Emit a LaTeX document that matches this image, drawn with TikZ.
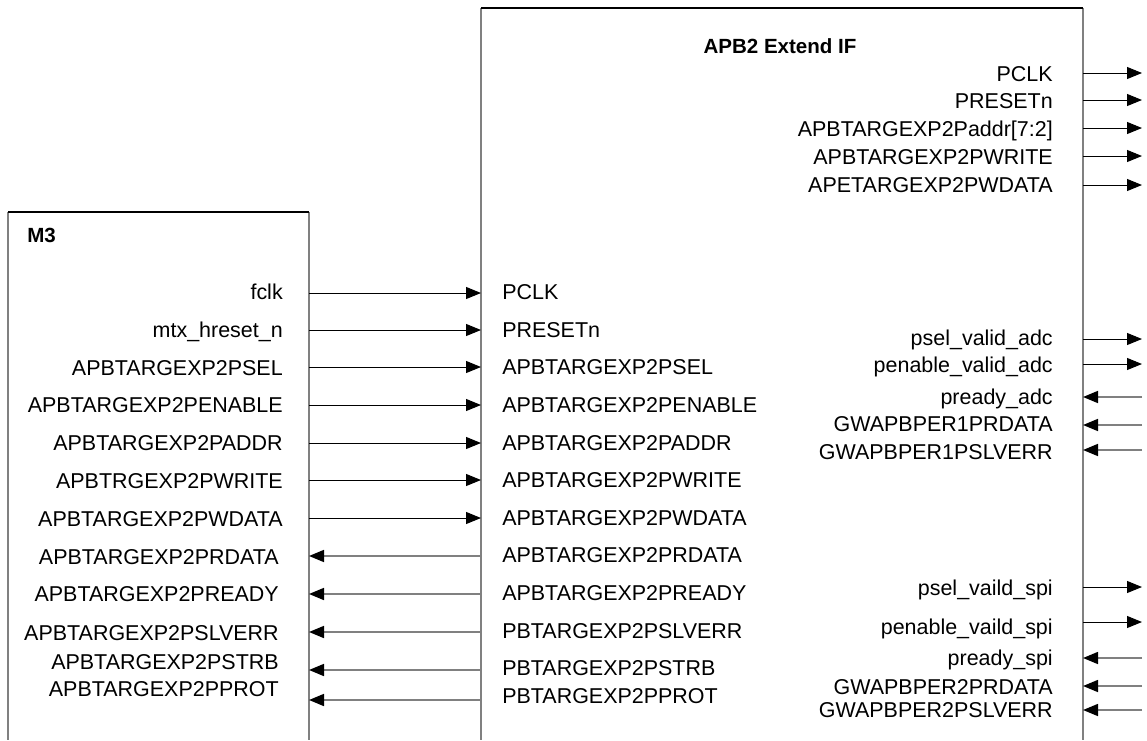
\documentclass[tikz,border=0pt]{standalone}
\usepackage{fontspec}
\setmainfont{Liberation Sans}
\usetikzlibrary{arrows.meta}
\definecolor{edgegray}{RGB}{128,128,128}
\begin{document}
\begin{tikzpicture}[x=0.75pt,y=-0.75pt,
  sig/.style={font=\fontsize{16.1}{18}\selectfont, inner sep=0pt},
  lsig/.style={sig, anchor=base east},
  rsig/.style={sig, anchor=base west},
  ttl/.style={font=\fontsize{15.4}{18}\selectfont\bfseries, inner sep=0pt},
  outw/.style={line width=0.75pt, black, -{Triangle[length=11.25pt,width=9pt]}},
  inw/.style={line width=1.2pt, edgegray, -{Triangle[length=11.25pt,width=9pt,color=black]}},
  side/.style={edgegray, line width=1.3pt},
  topline/.style={black, line width=1.3pt}]
\useasboundingbox (0,0) rectangle (1147,740);

% ---- block outlines (open at the bottom) ----
\coordinate (m3-tl) at (8,212);   \coordinate (m3-tr) at (309,212);
\coordinate (m3-bl) at (8,740);   \coordinate (m3-br) at (309,740);
\coordinate (if-tl) at (481,8);   \coordinate (if-tr) at (1083,8);
\coordinate (if-bl) at (481,740); \coordinate (if-br) at (1083,740);
\draw[side] (m3-tl) -- (m3-bl);
\draw[side] (m3-tr) -- (m3-br);
\draw[topline] (m3-tl) -- (m3-tr);
\draw[side] (if-tl) -- (if-bl);
\draw[side] (if-tr) -- (if-br);
\draw[topline] (if-tl) -- (if-tr);

\node[ttl, anchor=base west] (m3name) at (27,242) {M3};
\node[ttl, anchor=base] (ifname) at (780,53) {APB2 Extend IF};

% ---- M3 port labels ----
\node[lsig] (m3-fclk)    at (283,299.5) {fclk};
\node[lsig] (m3-rst)     at (283,337.5) {mtx\_hreset\_n};
\node[lsig] (m3-psel)    at (283,375.5) {APBTARGEXP2PSEL};
\node[lsig] (m3-pen)     at (283,412.5) {APBTARGEXP2PENABLE};
\node[lsig] (m3-paddr)   at (283,450.5) {APBTARGEXP2PADDR};
\node[lsig] (m3-pwrite)  at (283,488.5) {APBTRGEXP2PWRITE};
\node[lsig] (m3-pwdata)  at (283,526.5) {APBTARGEXP2PWDATA};
\node[lsig] (m3-prdata)  at (279,564.5) {APBTARGEXP2PRDATA};
\node[lsig] (m3-pready)  at (279,601.5) {APBTARGEXP2PREADY};
\node[lsig] (m3-pslverr) at (279,640.5) {APBTARGEXP2PSLVERR};
\node[lsig] (m3-pstrb)   at (279,669.5) {APBTARGEXP2PSTRB};
\node[lsig] (m3-pprot)   at (279,696.5) {APBTARGEXP2PPROT};

% ---- APB2 Extend IF input-side labels ----
\node[rsig] (if-pclk)    at (502,299.5) {PCLK};
\node[rsig] (if-rst)     at (502,337.5) {PRESETn};
\node[rsig] (if-psel)    at (502,374.5) {APBTARGEXP2PSEL};
\node[rsig] (if-pen)     at (502,412.5) {APBTARGEXP2PENABLE};
\node[rsig] (if-paddr)   at (502,450.5) {APBTARGEXP2PADDR};
\node[rsig] (if-pwrite)  at (502,487.5) {APBTARGEXP2PWRITE};
\node[rsig] (if-pwdata)  at (502,525.5) {APBTARGEXP2PWDATA};
\node[rsig] (if-prdata)  at (502,562.5) {APBTARGEXP2PRDATA};
\node[rsig] (if-pready)  at (502,600.5) {APBTARGEXP2PREADY};
\node[rsig] (if-pslverr) at (502,638.5) {PBTARGEXP2PSLVERR};
\node[rsig] (if-pstrb)   at (502,675.5) {PBTARGEXP2PSTRB};
\node[rsig] (if-pprot)   at (502,703.5) {PBTARGEXP2PPROT};

% ---- connections M3 <-> APB2 Extend IF ----
\foreach \n/\y in {fclk/293, rst/330, psel/367, pen/405, paddr/443, pwrite/480, pwdata/518,
                   prdata/556, pready/594, pslverr/632, pstrb/670, pprot/700} {
  \coordinate (m3p-\n) at (309,\y);
  \coordinate (ifp-\n) at (481,\y);
}
\foreach \n in {fclk, rst, psel, pen, paddr, pwrite, pwdata}
  \draw[outw] (m3p-\n) -- (ifp-\n);
\foreach \n in {prdata, pready, pslverr, pstrb, pprot}
  \draw[inw] (ifp-\n) -- (m3p-\n);

% ---- APB2 Extend IF output-side labels ----
\node[lsig] (o-pclk)   at (1053,81.5)  {PCLK};
\node[lsig] (o-rst)    at (1053,108.5) {PRESETn};
\node[lsig] (o-paddr)  at (1053,136.5) {APBTARGEXP2Paddr[7:2]};
\node[lsig] (o-pwrite) at (1053,164.5) {APBTARGEXP2PWRITE};
\node[lsig] (o-pwdata) at (1053,192.5) {APETARGEXP2PWDATA};

\node[lsig] (a-psel)   at (1053,345.5) {psel\_valid\_adc};
\node[lsig] (a-pen)    at (1053,372.5) {penable\_valid\_adc};
\node[lsig] (a-prdy)   at (1053,404.5) {pready\_adc};
\node[lsig] (a-prdata) at (1053,431.5) {GWAPBPER1PRDATA};
\node[lsig] (a-perr)   at (1053,459.5) {GWAPBPER1PSLVERR};

\node[lsig] (s-psel)   at (1053,595.5) {psel\_vaild\_spi};
\node[lsig] (s-pen)    at (1053,634.5) {penable\_vaild\_spi};
\node[lsig] (s-prdy)   at (1053,665.5) {pready\_spi};
\node[lsig] (s-prdata) at (1053,694.5) {GWAPBPER2PRDATA};
\node[lsig] (s-perr)   at (1053,717.5) {GWAPBPER2PSLVERR};

\foreach \n/\y in {o-pclk/73, o-rst/100, o-paddr/128, o-pwrite/156, o-pwdata/185,
                   a-psel/339, a-pen/364, a-prdy/397, a-prdata/425, a-perr/450,
                   s-psel/587, s-pen/622, s-prdy/658, s-prdata/686, s-perr/710} {
  \coordinate (edge-\n) at (1083,\y);
  \coordinate (ext-\n) at (1142,\y);
}
\foreach \n in {o-pclk, o-rst, o-paddr, o-pwrite, o-pwdata, a-psel, a-pen, s-psel, s-pen}
  \draw[outw] (edge-\n) -- (ext-\n);
\foreach \n in {a-prdy, a-prdata, a-perr, s-prdy, s-prdata, s-perr}
  \draw[inw] (ext-\n) -- (edge-\n);
\end{tikzpicture}
\end{document}
